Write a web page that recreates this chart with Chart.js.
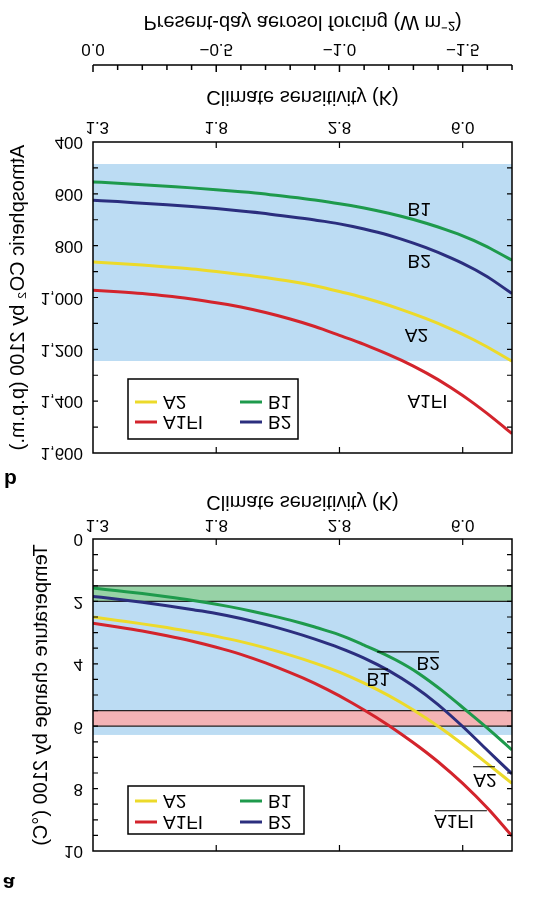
<!DOCTYPE html>
<html>
<head>
<meta charset="utf-8">
<script src="https://cdn.jsdelivr.net/npm/chart.js@4.4.1/dist/chart.umd.min.js"></script>
<style>
  html, body { margin: 0; padding: 0; background: #fff; }
  /* the reference figure is mirrored top-to-bottom, so the whole page is flipped */
  #wrap { position: relative; width: 551px; height: 901px; overflow: hidden; background: #fff; transform: scaleY(-1); }
  #wrap canvas { position: absolute; left: 0; }
  .panel { position: absolute; font: bold 21px "Liberation Sans", Arial, sans-serif; line-height: 21px; }
</style>
</head>
<body>
<div id="wrap">
  <canvas id="chartA" width="551" height="420" style="top:0"></canvas>
  <canvas id="chartB" width="551" height="501" style="top:400px"></canvas>
  <div class="panel" style="left:3px; top:6px;">a</div>
  <div class="panel" style="left:4px; top:410px;">b</div>
</div>
<script>
// ==========================================
// Data
// ==========================================

// present-day aerosol forcing (W m-2) at the sample points
const forcing = [0, -0.1, -0.2, -0.3, -0.4, -0.5, -0.6, -0.7, -0.8, -0.9,
                 -1.0, -1.1, -1.2, -1.3, -1.4, -1.5, -1.6, -1.7];

// climate sensitivity ticks sit on the forcing axis
const csTickForcing = [0, -0.5, -1.0, -1.5];
const csTickLabels = ["1.3", "1.8", "2.8", "6.0"];

// panel a: temperature change by 2100 (deg C)
const tempA1FI = [2.70, 2.82, 2.95, 3.10, 3.27, 3.47, 3.70, 3.97, 4.28, 4.63,
                  5.03, 5.48, 5.98, 6.53, 7.14, 7.83, 8.62, 9.52];
const tempA2   = [2.50, 2.61, 2.72, 2.84, 2.97, 3.12, 3.29, 3.49, 3.72, 3.98,
                  4.27, 4.62, 5.02, 5.48, 6.00, 6.58, 7.20, 7.83];
const tempB1   = [1.57, 1.66, 1.75, 1.85, 1.96, 2.09, 2.24, 2.41, 2.60, 2.82,
                  3.07, 3.40, 3.76, 4.20, 4.76, 5.40, 6.06, 6.76];
const tempB2   = [1.84, 1.93, 2.03, 2.14, 2.26, 2.39, 2.55, 2.74, 2.96, 3.21,
                  3.49, 3.82, 4.22, 4.71, 5.31, 6.01, 6.77, 7.53];

// panel b: atmospheric CO2 by 2100 (p.p.m.)
const co2A1FI = [972, 978, 985, 994, 1006, 1020, 1037, 1058, 1083, 1112,
                 1146, 1181, 1220, 1265, 1317, 1378, 1448, 1525];
const co2A2   = [863, 869, 875, 882, 890, 900, 911, 923, 937, 955,
                 977, 1001, 1030, 1063, 1100, 1142, 1191, 1246];
const co2B1   = [554, 559, 565, 571, 577, 584, 592, 601, 612, 624,
                 638, 655, 675, 699, 728, 762, 805, 856];
const co2B2   = [625, 630, 636, 642, 649, 657, 666, 676, 688, 701,
                 716, 736, 760, 790, 826, 868, 920, 985];

// shaded ranges
const tempRange = [1.5, 6.28];
const tempGreenBand = [1.5, 2.0];
const tempRedBand = [5.5, 6.0];
const co2Range = [485, 1245];

const COLORS = {
    A1FI: "#d3242c",
    A2: "#ecda2a",
    B1: "#1e9a4c",
    B2: "#2b2e7e"
};

Chart.defaults.font.family = '"Liberation Sans", Arial, sans-serif';
Chart.defaults.color = "#000";

// ==========================================
// Helpers
// ==========================================
function series(label, values) {
    return {
        label: label,
        data: values.map((v, i) => ({ x: forcing[i], y: v })),
        borderColor: COLORS[label],
        borderWidth: 3,
        pointRadius: 0,
        fill: false,
        cubicInterpolationMode: "monotone"
    };
}

function csAxis(height, tickPad, titlePad) {
    return {
        type: "linear",
        min: -1.7,
        max: 0,
        reverse: true,
        position: "bottom",
        grid: { display: false, drawTicks: false },
        border: { display: false },
        afterBuildTicks: s => { s.ticks = csTickForcing.map(v => ({ value: v })); },
        ticks: {
            autoSkip: false,
            maxRotation: 0,
            padding: tickPad,
            font: { size: 17 },
            // first label is nudged off the corner, as in the original
            callback: (v, i) => (i === 0 ? "\u2002" : "") + csTickLabels[i]
        },
        title: {
            display: true,
            text: "Climate sensitivity (K)",
            font: { size: 20 },
            padding: { top: 0, bottom: titlePad }
        },
        afterFit: s => { s.height = height; }
    };
}

function drawBand(chart, range, color, edges) {
    const { ctx, chartArea: a, scales: { y } } = chart;
    const y1 = y.getPixelForValue(range[1]);
    const y2 = y.getPixelForValue(range[0]);
    ctx.save();
    ctx.fillStyle = color;
    ctx.fillRect(a.left, y1, a.right - a.left, y2 - y1);
    if (edges) {
        ctx.strokeStyle = "#222";
        ctx.lineWidth = 1.3;
        ctx.beginPath();
        ctx.moveTo(a.left, y1); ctx.lineTo(a.right, y1);
        ctx.moveTo(a.left, y2); ctx.lineTo(a.right, y2);
        ctx.stroke();
    }
    ctx.restore();
}

function drawFrame(chart, yMin, yMax, yStep) {
    const { ctx, chartArea: a, scales } = chart;
    ctx.save();
    ctx.strokeStyle = "#000";
    ctx.lineWidth = 1.5;
    ctx.strokeRect(a.left, a.top, a.right - a.left, a.bottom - a.top);
    ctx.lineWidth = 1.2;
    ctx.beginPath();
    for (let v = yMin + yStep; v < yMax - 1e-9; v += yStep) {
        const py = scales.y.getPixelForValue(v);
        ctx.moveTo(a.left, py); ctx.lineTo(a.left + 5, py);
        ctx.moveTo(a.right, py); ctx.lineTo(a.right - 5, py);
    }
    csTickForcing.slice(1).forEach(v => {
        const px = scales.x.getPixelForValue(v);
        ctx.moveTo(px, a.top); ctx.lineTo(px, a.top + 6);
        ctx.moveTo(px, a.bottom); ctx.lineTo(px, a.bottom - 6);
    });
    ctx.stroke();
    ctx.restore();
}

function drawLabels(chart, labels, leaders) {
    const { ctx, scales: { x, y } } = chart;
    ctx.save();
    ctx.fillStyle = "#000";
    ctx.font = '19px "Liberation Sans", Arial, sans-serif';
    ctx.textAlign = "center";
    ctx.textBaseline = "middle";
    labels.forEach(l => ctx.fillText(l.text, x.getPixelForValue(l.x), y.getPixelForValue(l.y)));
    ctx.strokeStyle = "#000";
    ctx.lineWidth = 1.2;
    ctx.beginPath();
    leaders.forEach(l => {
        const py = y.getPixelForValue(l.y);
        ctx.moveTo(x.getPixelForValue(l.x1), py);
        ctx.lineTo(x.getPixelForValue(l.x2), py);
    });
    ctx.stroke();
    ctx.restore();
}

function drawLegend(chart, box, rows) {
    const { ctx, chartArea: a } = chart;
    const left = a.left + box.dx, top = a.top + box.dy;
    ctx.save();
    ctx.fillStyle = "#fff";
    ctx.fillRect(left, top, box.w, box.h);
    ctx.strokeStyle = "#000";
    ctx.lineWidth = 1.5;
    ctx.strokeRect(left, top, box.w, box.h);
    ctx.font = '19px "Liberation Sans", Arial, sans-serif';
    ctx.textAlign = "left";
    ctx.textBaseline = "middle";
    rows.forEach((row, r) => {
        const py = top + box.row0 + r * box.rowGap;
        row.forEach((name, c) => {
            const px = left + 7 + c * 105;
            ctx.strokeStyle = COLORS[name];
            ctx.lineWidth = 3;
            ctx.beginPath();
            ctx.moveTo(px, py); ctx.lineTo(px + 22, py);
            ctx.stroke();
            ctx.fillStyle = "#000";
            ctx.fillText(name, px + 28, py + 1);
        });
    });
    ctx.restore();
}

// ==========================================
// Panel a: temperature change
// ==========================================
new Chart(document.getElementById("chartA"), {
    type: "line",
    data: {
        datasets: [
            series("A1FI", tempA1FI),
            series("A2", tempA2),
            series("B2", tempB2),
            series("B1", tempB1)
        ]
    },
    options: {
        responsive: false,
        animation: false,
        devicePixelRatio: 1,
        layout: { padding: { top: 50, right: 39, left: 0, bottom: 0 } },
        plugins: { legend: { display: false }, tooltip: { enabled: false } },
        scales: {
            x: csAxis(58, 4, 9),
            y: {
                min: 0,
                max: 10,
                position: "left",
                grid: { display: false, drawTicks: false },
                border: { display: false },
                ticks: { stepSize: 2, padding: 10, font: { size: 17 } },
                title: {
                    display: true,
                    text: "Temperature change by 2100 (°C)",
                    font: { size: 20 },
                    padding: { top: 29, bottom: 0 }
                },
                afterFit: s => { s.width = 93; }
            }
        }
    },
    plugins: [{
        id: "panelA",
        beforeDatasetsDraw(chart) {
            drawBand(chart, tempRange, "#bcdcf3", false);
            drawBand(chart, tempGreenBand, "#97d2a6", true);
            drawBand(chart, tempRedBand, "#f3b3b5", true);
        },
        afterDatasetsDraw(chart) {
            drawLabels(chart, [
                { text: "B2", x: -1.36, y: 3.95 },
                { text: "B1", x: -1.157, y: 4.46 },
                { text: "A2", x: -1.59, y: 7.70 },
                { text: "A1FI", x: -1.465, y: 9.02 }
            ], [
                { x1: -1.153, x2: -1.404, y: 3.62 },
                { x1: -1.117, x2: -1.197, y: 4.17 },
                { x1: -1.542, x2: -1.631, y: 7.30 },
                { x1: -1.388, x2: -1.598, y: 8.71 }
            ]);
            drawFrame(chart, 0, 10, 0.5);
            drawLegend(chart, { dx: 35, dy: 17, w: 176, h: 48, row0: 12, rowGap: 21 },
                [["A1FI", "B2"], ["A2", "B1"]]);
        }
    }]
});

// ==========================================
// Panel b: atmospheric CO2
// ==========================================
new Chart(document.getElementById("chartB"), {
    type: "line",
    data: {
        datasets: [
            series("A1FI", co2A1FI),
            series("A2", co2A2),
            series("B2", co2B2),
            series("B1", co2B1)
        ]
    },
    options: {
        responsive: false,
        animation: false,
        devicePixelRatio: 1,
        layout: { padding: { top: 48, right: 39, left: 0, bottom: 0 } },
        plugins: { legend: { display: false }, tooltip: { enabled: false } },
        scales: {
            x: csAxis(77, 5, 20),
            x2: {
                type: "linear",
                axis: "x",
                min: -1.7,
                max: 0,
                reverse: true,
                position: "bottom",
                weight: 1,
                grid: { display: false, drawTicks: false },
                border: { display: false },
                afterBuildTicks: s => { s.ticks = csTickForcing.map(v => ({ value: v })); },
                ticks: {
                    autoSkip: false,
                    maxRotation: 0,
                    padding: 6,
                    font: { size: 17 },
                    callback: v => v === 0 ? "0.0" : "\u2212" + Math.abs(v).toFixed(1)
                },
                title: {
                    display: true,
                    text: "Present-day aerosol forcing (W m\u207B\u00B2)",
                    font: { size: 20 },
                    padding: { top: 0, bottom: 10 }
                },
                afterFit: s => { s.height = 65; }
            },
            y: {
                min: 400,
                max: 1600,
                position: "left",
                grid: { display: false, drawTicks: false },
                border: { display: false },
                ticks: {
                    stepSize: 200,
                    padding: 10,
                    font: { size: 17 },
                    callback: v => v.toLocaleString("en-US")
                },
                title: {
                    display: true,
                    text: "Atmospheric CO\u2082 by 2100 (p.p.m.)",
                    font: { size: 20 },
                    padding: { top: 6, bottom: 0 }
                },
                afterFit: s => { s.width = 93; }
            }
        }
    },
    plugins: [{
        id: "panelB",
        beforeDatasetsDraw(chart) {
            drawBand(chart, co2Range, "#bcdcf3", false);
        },
        afterDatasetsDraw(chart) {
            drawLabels(chart, [
                { text: "B1", x: -1.323, y: 654 },
                { text: "B2", x: -1.323, y: 856 },
                { text: "A2", x: -1.3125, y: 1140 },
                { text: "A1FI", x: -1.357, y: 1397 }
            ], []);
            drawFrame(chart, 400, 1600, 100);
            drawLegend(chart, { dx: 35, dy: 14, w: 170, h: 60, row0: 17, rowGap: 20 },
                [["A1FI", "B2"], ["A2", "B1"]]);

            // aerosol forcing axis line with ticks every 0.1
            const { ctx, scales: { x2 } } = chart;
            const ly = x2.top;
            ctx.save();
            ctx.strokeStyle = "#000";
            ctx.lineWidth = 1.5;
            ctx.beginPath();
            ctx.moveTo(x2.getPixelForValue(0), ly);
            ctx.lineTo(x2.getPixelForValue(-1.7), ly);
            for (let k = 0; k <= 17; k++) {
                const px = x2.getPixelForValue(-k / 10);
                ctx.moveTo(px, ly);
                ctx.lineTo(px, ly - (k % 5 === 0 ? 7 : 5));
            }
            ctx.stroke();
            ctx.restore();
        }
    }]
});
</script>
</body>
</html>
